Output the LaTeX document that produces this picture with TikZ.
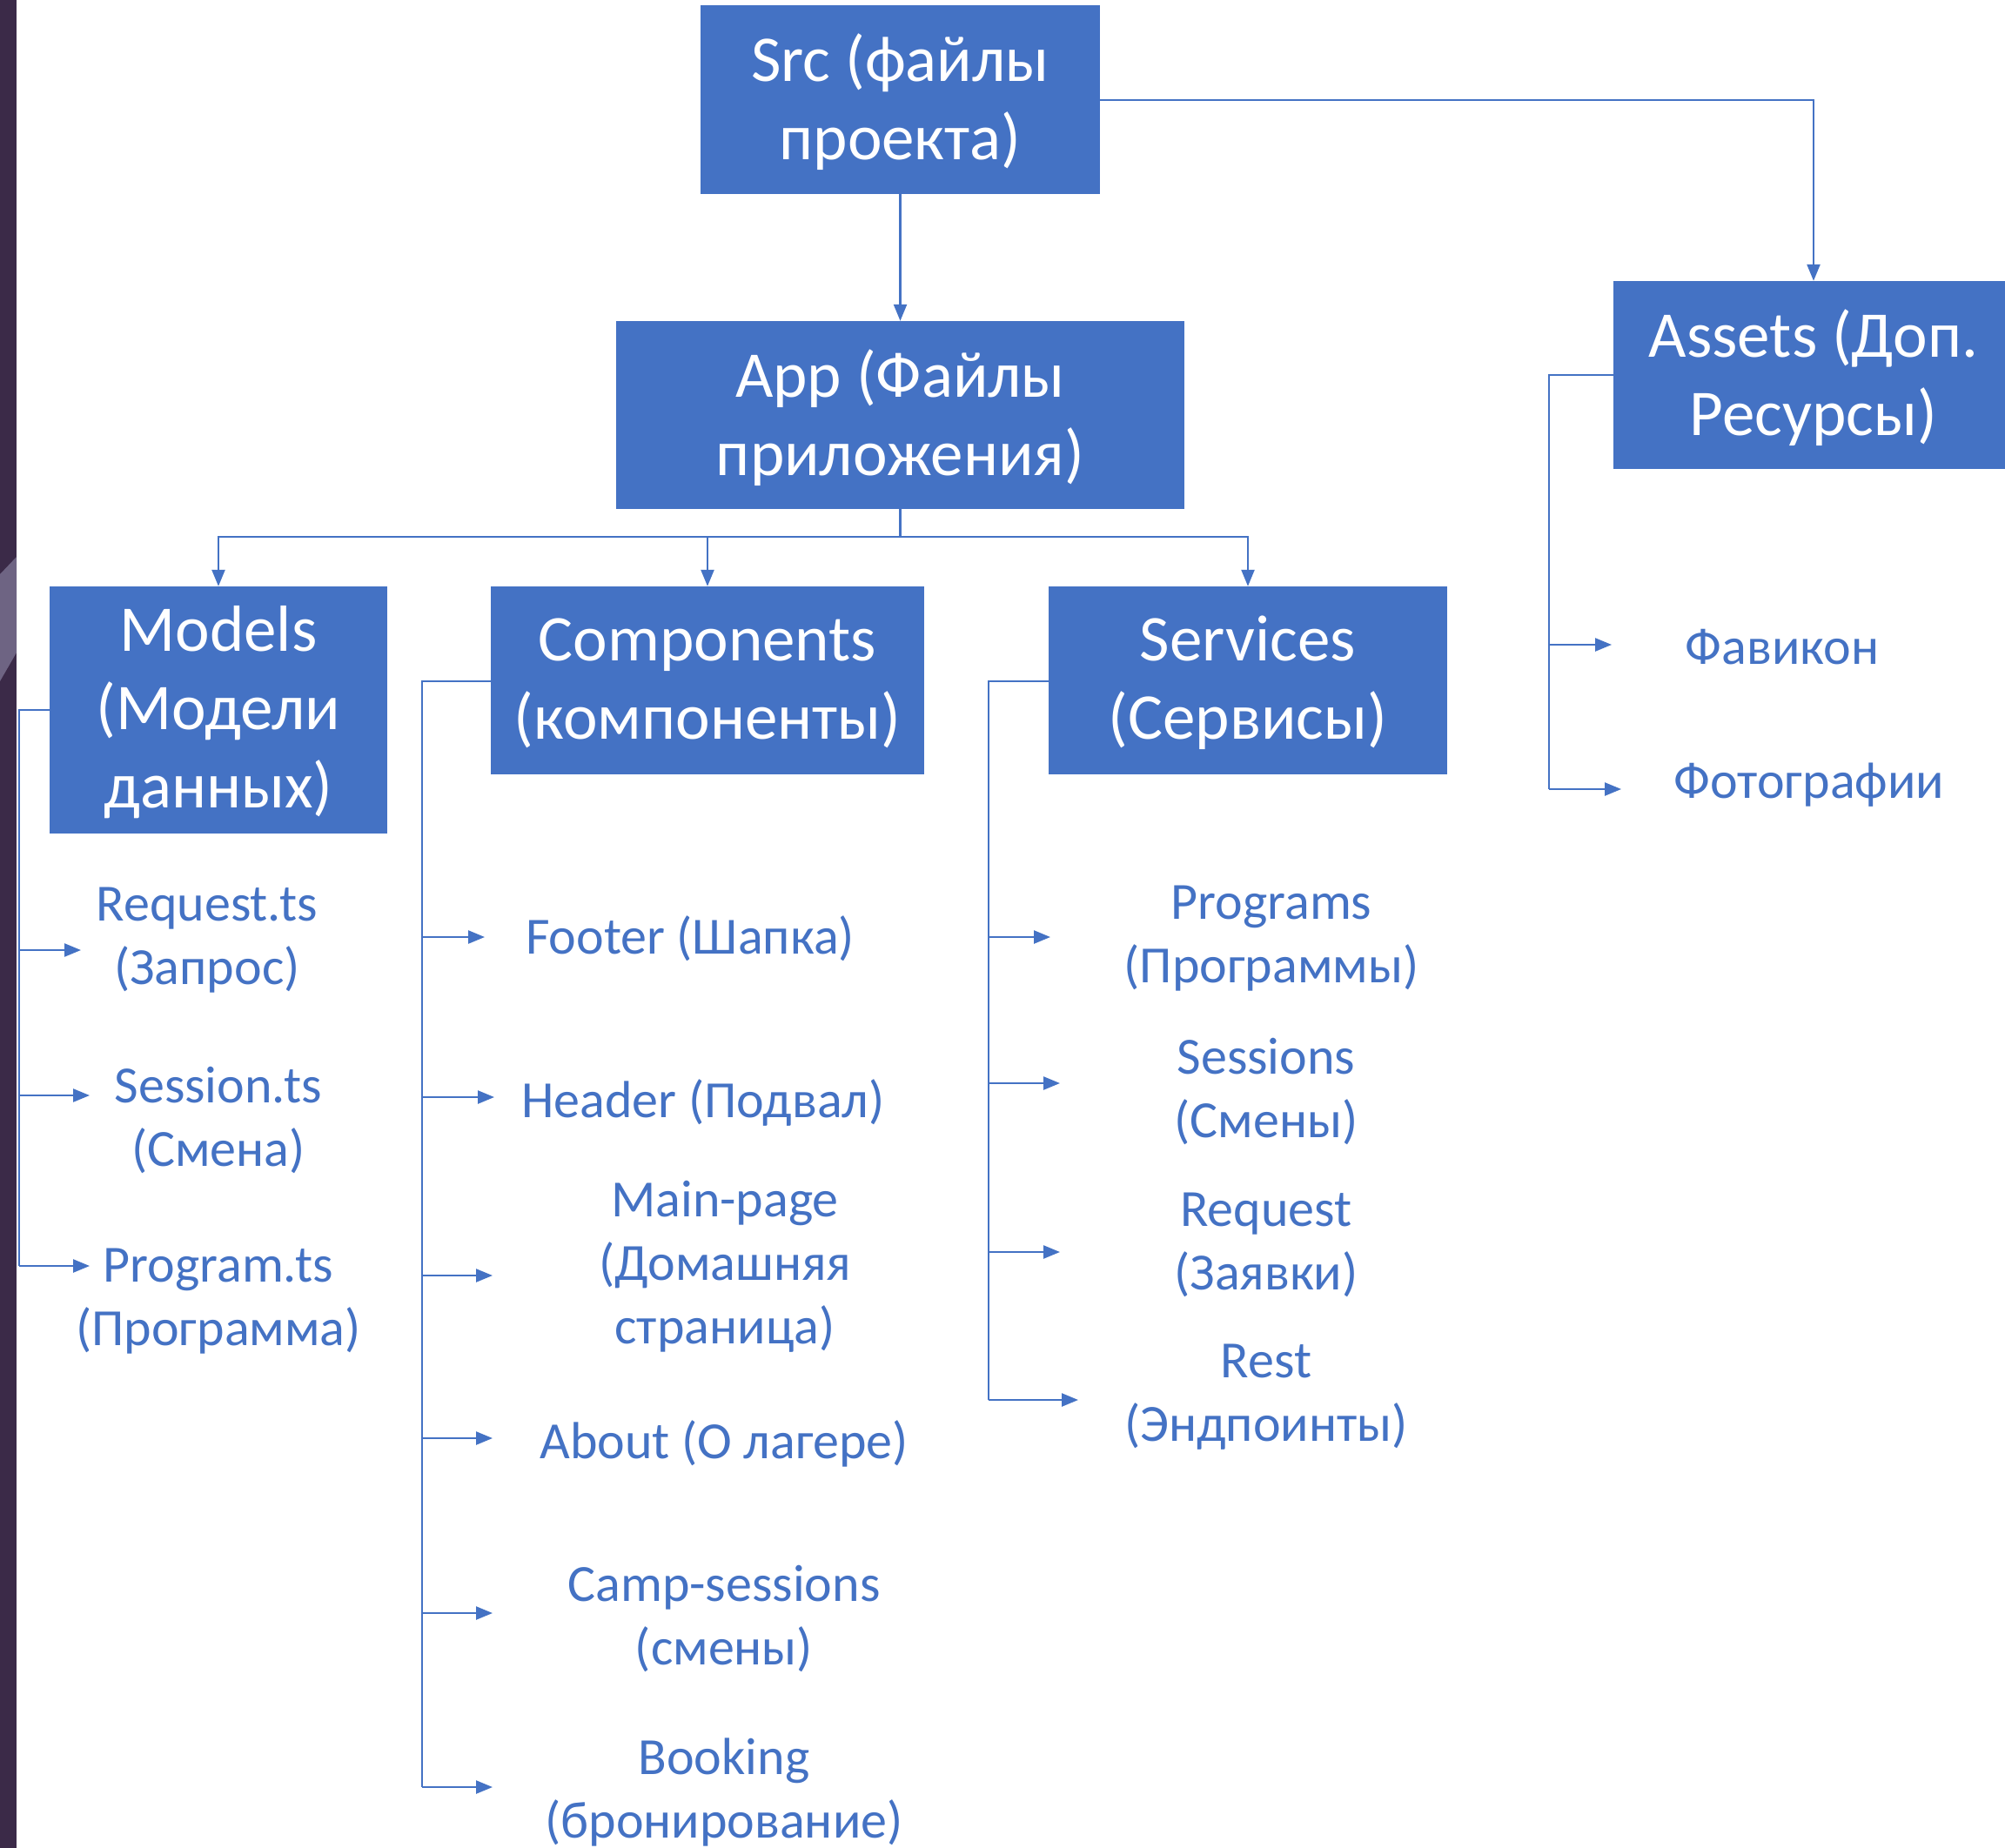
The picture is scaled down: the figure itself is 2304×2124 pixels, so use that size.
\documentclass[tikz,border=0pt]{standalone}
\usepackage{fontspec}
\setmainfont{Carlito}
\usetikzlibrary{arrows.meta}
\definecolor{obl}{HTML}{4472C4}
\definecolor{stripc}{HTML}{3B2A48}
\definecolor{stripl}{HTML}{6E6483}
\begin{document}
\begin{tikzpicture}[x=1pt,y=-1pt,
  box/.style={fill=obl, text=white, inner sep=0pt, align=center, font=\fontsize{75}{90}\selectfont},
  btext/.style={text=white, inner sep=0pt, align=center, font=\fontsize{75}{90}\selectfont, yshift=-3pt},
  lbl/.style={text=obl, inner sep=0pt, align=center, font=\fontsize{60}{73}\selectfont, yshift=-3pt},
  conn/.style={draw=obl, line width=2.4pt},
  arr/.style={conn, -{Triangle[length=19pt,width=15pt]}}]
\path[use as bounding box, fill=white] (0,0) rectangle (2304,2124);
\fill[stripc] (0,0) rectangle (19,2124);
\fill[stripl] (19,640) -- (19,750) -- (0,783) -- (0,660) -- cycle;

% boxes
\node[box, minimum width=459pt, minimum height=217pt] (src) at (1034.5,114.5) {};
\node[btext] (srct) at (src) {Src (файлы\\проекта)};
\node[box, minimum width=653pt, minimum height=216pt] (app) at (1034.5,477) {};
\node[btext] (appt) at (app) {App (Файлы\\приложения)};
\node[box, minimum width=460pt, minimum height=216pt] (assets) at (2084,431) {};
\node[btext] (assetst) at (assets) {Assets (Доп.\\Ресурсы)};
\node[box, minimum width=388pt, minimum height=284pt] (models) at (251,816) {};
\node[btext] (modelst) at (models) {Models\\(Модели\\данных)};
\node[box, minimum width=498pt, minimum height=216pt] (comp) at (813,782) {};
\node[btext] (compt) at (comp) {Components\\(компоненты)};
\node[box, minimum width=458pt, minimum height=216pt] (serv) at (1434,782) {};
\node[btext] (servt) at (serv) {Services\\(Сервисы)};

% top connectors
\draw[arr] (src.south) -- (app.north);
\draw[arr] (src.east |- 0,115) -| (assets.north);
\coordinate (bus) at (1034.5,617);
\draw[conn] (app.south) -- (bus);
\draw[arr] (bus) -| (models.north -| 251,0);
\draw[arr] (bus) -| (comp.north);
\draw[arr] (bus) -| (serv.north);

% labels - models
\node[lbl] (m1) at (238,1078) {Request.ts\\(Запрос)};
\node[lbl] (m2) at (251,1285) {Session.ts\\(Смена)};
\node[lbl] (m3) at (251,1493) {Program.ts\\(Программа)};
% labels - components
\node[lbl] (c1) at (793,1076) {Footer (Шапка)};
\node[lbl] (c2) at (808,1264) {Header (Подвал)};
\node[lbl] (c3) at (833,1453) {Main-page\\(Домашняя\\страница)};
\node[lbl] (c4) at (832,1656) {About (О лагере)};
\node[lbl] (c5) at (832,1857) {Camp-sessions\\(смены)};
\node[lbl] (c6) at (832,2057) {Booking\\(бронирование)};
% labels - services
\node[lbl] (s1) at (1461,1076) {Programs\\(Программы)};
\node[lbl] (s2) at (1455,1252) {Sessions\\(Смены)};
\node[lbl] (s3) at (1455,1428) {Request\\(Заявки)};
\node[lbl] (s4) at (1455,1603) {Rest\\(Эндпоинты)};
% labels - assets
\node[lbl] (a1) at (2048,741) {Фавикон};
\node[lbl] (a2) at (2079,899) {Фотографии};

% models branch
\coordinate (mt) at (22,816);
\coordinate (m1e) at (93,1092);
\coordinate (m2e) at (103,1259);
\coordinate (m3e) at (103,1455);
\draw[conn] (models.west) -- (mt) -- (mt |- m3e);
\draw[arr] (mt |- m1e) -- (m1e);
\draw[arr] (mt |- m2e) -- (m2e);
\draw[arr] (mt |- m3e) -- (m3e);

% components branch
\coordinate (ct) at (485,783);
\coordinate (c1e) at (557,1077);
\coordinate (c2e) at (568,1261);
\coordinate (c3e) at (566,1466);
\coordinate (c4e) at (566,1653);
\coordinate (c5e) at (566,1854);
\coordinate (c6e) at (566,2054);
\draw[conn] (comp.west |- ct) -- (ct) -- (ct |- c6e);
\foreach \e in {c1e,c2e,c3e,c4e,c5e,c6e} \draw[arr] (ct |- \e) -- (\e);

% services branch
\coordinate (st) at (1136,783);
\coordinate (s1e) at (1207,1077);
\coordinate (s2e) at (1218,1245);
\coordinate (s3e) at (1218,1439);
\coordinate (s4e) at (1239,1609);
\draw[conn] (serv.west |- st) -- (st) -- (st |- s4e);
\foreach \e in {s1e,s2e,s3e,s4e} \draw[arr] (st |- \e) -- (\e);

% assets branch
\coordinate (at) at (1780,431);
\coordinate (a1e) at (1852,741);
\coordinate (a2e) at (1863,907);
\draw[conn] (assets.west) -- (at) -- (at |- a2e);
\draw[arr] (at |- a1e) -- (a1e);
\draw[arr] (at |- a2e) -- (a2e);
\end{tikzpicture}
\end{document}
